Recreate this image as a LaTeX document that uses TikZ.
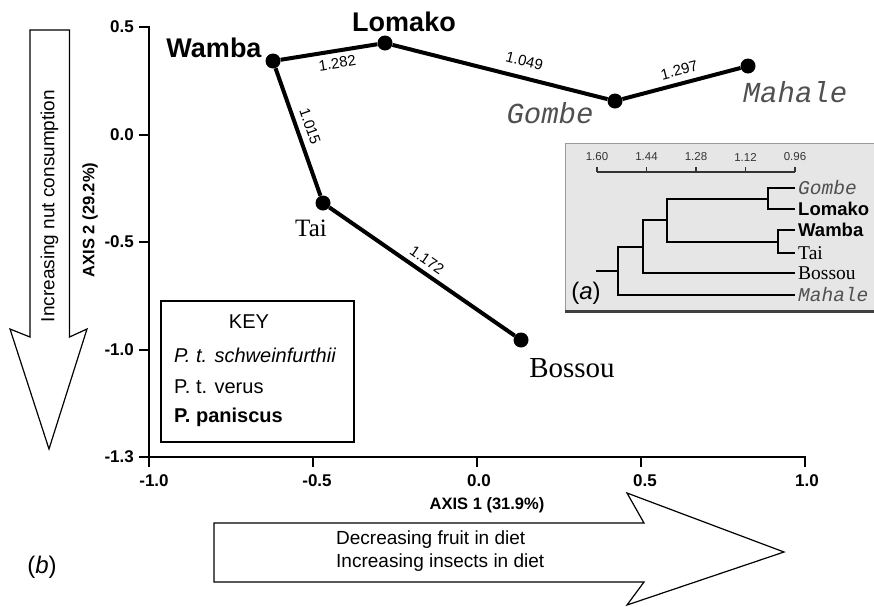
\documentclass[tikz,border=0pt]{standalone}
\usepackage{fontspec}
\setmainfont{Liberation Sans}
\newfontfamily\serffont{Liberation Serif}
\newfontfamily\monofont{Liberation Mono}
\definecolor{labgray}{HTML}{505050}
\definecolor{insetfill}{HTML}{E6E6E6}
\definecolor{insetedge}{HTML}{9A9A9A}
\definecolor{insetshadow}{HTML}{404040}
\newcommand\fsz[1]{\fontsize{#1}{#1}\selectfont}
\begin{document}
\begin{tikzpicture}[x=1pt,y=-1pt,
  bigarrow/.style={draw=black,line width=1.2pt,fill=white,line join=miter},
  axisline/.style={line width=2pt,line cap=rect},
  ticklab/.style={font=\fsz{17}\bfseries,inner sep=0pt},
  axistitle/.style={font=\fsz{16.5}\bfseries,inner sep=0pt},
  dot/.style={circle,fill=black,inner sep=0pt,minimum size=15pt},
  edge/.style={line width=4pt},
  elab/.style={font=\fsz{15},inner sep=1pt,sloped},
  bonobo/.style={font=\fsz{27}\bfseries,inner sep=0pt},
  schw/.style={font=\monofont\itshape\fsz{29},text=labgray,inner sep=0pt},
  verus/.style={font=\serffont\fsz{27},inner sep=0pt},
  tree/.style={line width=2pt},
  leaf/.style={anchor=west,inner sep=0pt,font=\serffont\fsz{19.5}},
  keytext/.style={font=\fsz{20},inner sep=0pt}]
\useasboundingbox (0,0) rectangle (874,606);

% ---- big arrows ----
\draw[bigarrow] (30,30) -- (69.5,30) -- (69.5,337) -- (87,329) -- (49,449) -- (10,329) -- (30,337) -- cycle;
\node[rotate=90,font=\fsz{19},inner sep=0pt] (nutlab) at (49.5,206) {Increasing nut consumption};
\draw[bigarrow] (214,523) -- (644,523) -- (627,493) -- (784,552) -- (627,605) -- (644,582) -- (214,582) -- cycle;
\node[font=\fsz{19},anchor=west,inner sep=0pt] (fruitlab) at (336,540) {Decreasing fruit in diet};
\node[font=\fsz{19},anchor=west,inner sep=0pt] (insectlab) at (336,563) {Increasing insects in diet};

% ---- axes ----
\draw[axisline] (149,27) -- (149,466);
\draw[axisline] (140,457) -- (805,457);
\foreach \yy in {27,134.5,242,349.5} \draw[axisline] (140,\yy) -- (149,\yy);
\foreach \xx in {313,477,641,805} \draw[axisline] (\xx,457) -- (\xx,466);
\node[ticklab,anchor=east] (y1) at (134,27) {0.5};
\node[ticklab,anchor=east] (y2) at (134,134.5) {0.0};
\node[ticklab,anchor=east] (y3) at (134,242) {-0.5};
\node[ticklab,anchor=east] (y4) at (134,349.5) {-1.0};
\node[ticklab,anchor=east] (y5) at (134,457) {-1.3};
\node[ticklab] (x1) at (154,481) {-1.0};
\node[ticklab] (x2) at (317,481) {-0.5};
\node[ticklab] (x3) at (479,481) {0.0};
\node[ticklab] (x4) at (645,481) {0.5};
\node[ticklab] (x5) at (807,481) {1.0};
\node[axistitle] (ax1) at (487,505) {AXIS 1 (31.9\%)};
\node[axistitle,rotate=90] (ax2) at (90,220) {AXIS 2 (29.2\%)};

% ---- key ----
\draw[line width=1.2pt] (161,301) rectangle (354,442);
\node[keytext] (key) at (249,322) {KEY};
\node[keytext,anchor=west] (k1) at (174,355) {\itshape P. t. schweinfurthii};
\node[keytext,anchor=west] (k2) at (174,387) {P. t. verus};
\node[keytext,anchor=west] (k3) at (174,417) {\bfseries P. paniscus};

% ---- data network ----
\node[dot] (wamba) at (273,61) {};
\node[dot] (lomako) at (385,43) {};
\node[dot] (gombe) at (615,101) {};
\node[dot] (mahale) at (748,66) {};
\node[dot] (tai) at (323,203) {};
\node[dot] (bossou) at (521,340) {};
\draw[edge] (wamba) -- node[elab,pos=0.565,below=4pt] {1.282} (lomako);
\draw[edge] (lomako) -- node[elab,pos=0.595,above=8pt] {1.049} (gombe);
\draw[edge] (gombe) -- node[elab,pos=0.51,above=5pt] {1.297} (mahale);
\draw[edge] (wamba) -- node[elab,pos=0.49,above=5pt] {1.015} (tai);
\draw[edge] (tai) -- node[elab,pos=0.49,above=4pt] {1.172} (bossou);
\node[bonobo] (wambalab) at (214,48) {Wamba};
\node[bonobo] (lomakolab) at (404,22) {Lomako};
\node[schw] (gombelab) at (550,113) {Gombe};
\node[schw] (mahalelab) at (795,92) {Mahale};
\node[verus,font=\serffont\fsz{25}] (tailab) at (311,228) {Tai};
\node[verus,font=\serffont\fsz{29}] (bossoulab) at (572,368) {Bossou};

% ---- inset dendrogram ----
\fill[insetfill] (565,143) rectangle (874,312);
\draw[insetedge,line width=1pt] (874,143) -- (565,143) -- (565,311);
\draw[insetshadow,line width=3pt] (565,311) -- (874,311);
\draw[line width=1.2pt,black!80] (597,172) -- (795,172);
\foreach \xx in {597,646.5,696,745.5,795} \draw[line width=1.2pt,black!80] (\xx,172) -- (\xx,167);
\node[font=\fsz{11.5},text=black!80,inner sep=0pt] (s1) at (597,157) {1.60};
\node[font=\fsz{11.5},text=black!80,inner sep=0pt] (s2) at (646.5,157) {1.44};
\node[font=\fsz{11.5},text=black!80,inner sep=0pt] (s3) at (696,157) {1.28};
\node[font=\fsz{11.5},text=black!80,inner sep=0pt] (s4) at (745.5,157) {1.12};
\node[font=\fsz{11.5},text=black!80,inner sep=0pt] (s5) at (795,157) {0.96};
\draw[tree] (795,188) -| (768,209) -- (795,209);
\draw[tree] (795,230) -| (778,253) -- (795,253);
\draw[tree] (768,198.5) -| (667,241.5) -- (778,241.5);
\draw[tree] (667,220) -| (643,273) -- (795,273);
\draw[tree] (643,246.5) -| (618,295) -- (795,295);
\draw[tree] (618,271) -- (596,271);
\node[leaf,font=\monofont\itshape\fsz{19.5},text=labgray] (lg) at (798,188) {Gombe};
\node[leaf,font=\fsz{18.5}\bfseries] (ll) at (798,209) {Lomako};
\node[leaf,font=\fsz{18.5}\bfseries] (lw) at (798,230) {Wamba};
\node[leaf] (lt) at (798,253) {Tai};
\node[leaf] (lb) at (798,273) {Bossou};
\node[leaf,font=\monofont\itshape\fsz{19.5},text=labgray] (lm) at (798,295) {Mahale};
\node[font=\fsz{24},inner sep=0pt] (alab) at (586,293) {(\textit{a})};
\node[font=\fsz{24},inner sep=0pt] (blab) at (42,567) {(\textit{b})};
\end{tikzpicture}
\end{document}
